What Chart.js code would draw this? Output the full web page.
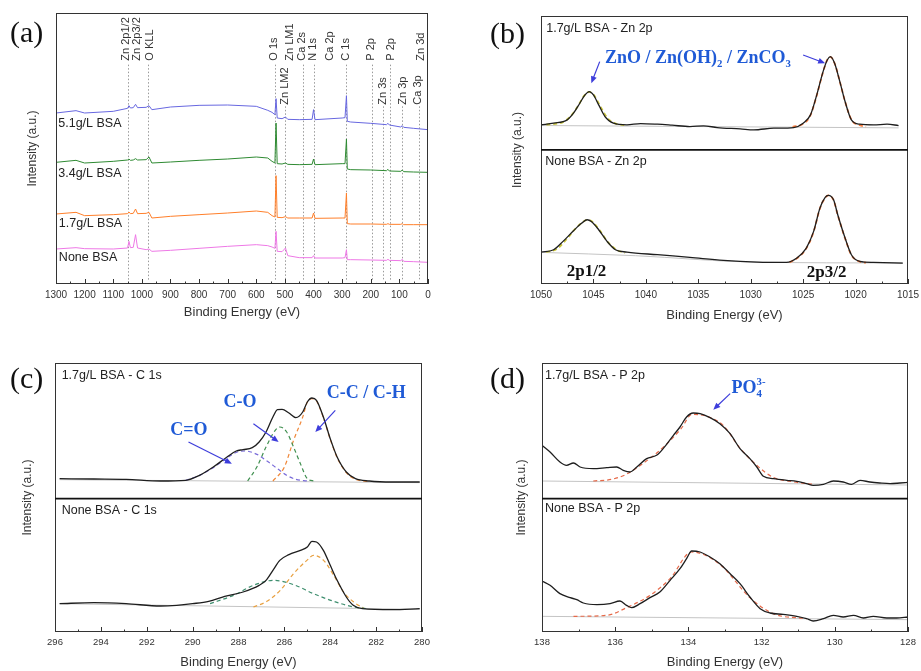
<!DOCTYPE html>
<html>
<head>
<meta charset="utf-8">
<title>XPS spectra</title>
<script src="https://cdn.jsdelivr.net/npm/chart.js@4.4.1/dist/chart.umd.min.js"></script>
<style>
  html, body { margin: 0; padding: 0; background: #fff; }
  #page { position: relative; width: 921px; height: 671px; overflow: hidden; }
  canvas { position: absolute; }
  .tag { position: absolute; font: 30px "Liberation Serif", "Times New Roman", serif; color: #111; line-height: 30px; }
</style>
</head>
<body>
<div id="page">
  <canvas id="cA" width="460" height="320" style="left:0;top:0"></canvas>
  <canvas id="cB" width="461" height="335" style="left:460px;top:0"></canvas>
  <canvas id="cC" width="460" height="341" style="left:0;top:330px"></canvas>
  <canvas id="cD" width="461" height="341" style="left:460px;top:330px"></canvas>
  <div class="tag" style="left:10px;top:17px">(a)</div>
  <div class="tag" style="left:490px;top:18px">(b)</div>
  <div class="tag" style="left:10px;top:363px">(c)</div>
  <div class="tag" style="left:490px;top:363px">(d)</div>
</div>
<script>
/* XPS figure: survey, Zn 2p, C 1s, P 2p */
const SANS  = '"Liberation Sans", Arial, sans-serif';
const SERIF = '"Liberation Serif", "Times New Roman", serif';
const BLUE  = '#1f5ad6';
const ARROW = '#3d3ddb';

// (a) survey spectra
const surveyBE   = [1300, 1230, 1200, 1100, 1050, 1045, 1040, 1030, 1022, 1015, 985, 975, 965, 900, 800, 700, 600, 560, 545, 535, 531, 527, 510, 498, 490, 450, 405, 400, 395, 300, 290, 285, 282, 270, 200, 145, 140, 135, 95, 90, 85, 50, 0];
const survey51   = [660, 667, 660, 665, 674, 682, 675, 676, 686, 676, 677, 682, 670, 678, 683, 684, 680, 668, 662, 655, 703, 645, 643, 648, 641, 640, 641, 670, 640, 645, 646, 712, 635, 633, 629, 625, 629, 624, 618, 622, 617, 614, 610];
const survey34   = [512, 518, 510, 515, 519, 522, 518, 519, 523, 519, 520, 528, 510, 513, 518, 522, 528, 525, 515, 510, 630, 508, 507, 510, 506, 505, 506, 522, 505, 508, 508, 582, 492, 490, 489, 487, 491, 486, 485, 489, 484, 483, 482];
const survey17   = [357, 362, 352, 355, 358, 363, 358, 359, 372, 358, 359, 362, 345, 350, 355, 360, 366, 362, 352, 348, 472, 347, 346, 349, 345, 345, 345, 360, 344, 345, 345, 420, 328, 327, 327, 326, 328, 326, 326, 328, 325, 325, 325];
const surveyNone = [252, 256, 253, 252, 255, 275, 256, 257, 295, 255, 250, 252, 245, 248, 254, 260, 265, 262, 258, 254, 305, 245, 244, 255, 232, 226, 226, 232, 225, 225, 226, 250, 220, 220, 219, 218, 221, 218, 217, 221, 215, 214, 212];

// (b) Zn 2p
const zn17BE  = [1050.0, 1048.8, 1047.5, 1046.9, 1046.3, 1045.8, 1045.4, 1045.0, 1044.5, 1043.9, 1043.1, 1041.8, 1040.5, 1038.9, 1037.5, 1035.8, 1034.5, 1033.2, 1031.0, 1029.7, 1027.8, 1025.9, 1025.0, 1024.3, 1023.7, 1023.1, 1022.7, 1022.4, 1022.0, 1021.5, 1021.0, 1020.4, 1019.6, 1018.3, 1017.0, 1015.9];
const zn17I   = [625, 630, 640, 660, 690, 715, 725, 715, 685, 650, 630, 625, 629, 627, 624, 620, 622, 617, 613, 610, 615, 617, 630, 655, 715, 785, 820, 830, 810, 755, 695, 640, 627, 625, 627, 623];
const zn17FitABE = [1049.5, 1048.0, 1047.2, 1046.5, 1045.9, 1045.4, 1044.9, 1044.3, 1043.6, 1042.8, 1042.0];
const zn17FitAI  = [626, 632, 650, 680, 712, 724, 712, 678, 643, 628, 624];
const zn17FitBBE = [1026.0, 1025.0, 1024.3, 1023.7, 1023.1, 1022.7, 1022.4, 1022.0, 1021.5, 1021.0, 1020.4, 1019.6, 1019.0];
const zn17FitBI  = [619, 628, 654, 714, 784, 820, 829, 810, 755, 695, 641, 624, 620];
const zn17BaseBE = [1050, 1015.9];
const zn17BaseI  = [623, 616];

const znNoneBE = [1050.0, 1048.8, 1047.9, 1046.9, 1046.1, 1045.6, 1045.2, 1044.5, 1043.7, 1042.9, 1041.8, 1038.9, 1035.8, 1032.6, 1029.4, 1026.6, 1025.6, 1024.7, 1024.0, 1023.4, 1022.9, 1022.6, 1022.1, 1021.7, 1021.0, 1020.4, 1019.6, 1018.3, 1015.5];
const znNoneI  = [243, 250, 275, 307, 330, 340, 335, 310, 275, 250, 243, 235, 227, 218, 213, 212, 225, 255, 305, 375, 407, 413, 400, 355, 285, 235, 215, 212, 210];
const znNoneFitABE = [1049.5, 1048.5, 1047.6, 1046.8, 1046.1, 1045.6, 1045.1, 1044.4, 1043.6, 1042.8, 1042.0];
const znNoneFitAI  = [243, 252, 280, 310, 331, 340, 334, 308, 272, 250, 240];
const znNoneFitBBE = [1026.3, 1025.6, 1024.7, 1024.0, 1023.4, 1022.9, 1022.6, 1022.1, 1021.7, 1021.0, 1020.4, 1019.6, 1019.0];
const znNoneFitBI  = [212, 224, 254, 304, 374, 406, 413, 399, 354, 284, 234, 214, 211];
const znNoneBaseBE = [1050, 1041, 1030, 1015.5];
const znNoneBaseI  = [242, 232, 213, 210];

// (c) C 1s
const c17BE = [295.8, 294.3, 292.9, 291.4, 290.3, 289.7, 289.1, 288.5, 288.1, 287.8, 287.4, 287.1, 286.8, 286.5, 286.3, 286.1, 285.8, 285.5, 285.2, 285.0, 284.8, 284.6, 284.3, 284.0, 283.7, 283.3, 282.9, 282.3, 281.3, 280.1];
const c17I  = [495, 494, 493, 488, 490, 505, 530, 560, 578, 582, 588, 605, 635, 680, 702, 703, 692, 678, 695, 725, 737, 730, 680, 615, 560, 515, 495, 488, 485, 485];
const c17CdoBE = [290.3, 289.7, 289.1, 288.5, 288.1, 287.7, 287.2, 286.8, 286.3, 285.9, 285.5, 285.0];
const c17CdoI  = [490, 505, 528, 557, 574, 578, 568, 550, 525, 505, 493, 488];
const c17CoBE  = [287.6, 287.2, 286.8, 286.4, 286.2, 285.9, 285.6, 285.3, 285.0, 284.7];
const c17CoI   = [488, 530, 590, 640, 650, 635, 590, 540, 495, 488];
const c17CcBE  = [286.5, 286.0, 285.6, 285.2, 285.0, 284.8, 284.6, 284.3, 284.0, 283.7, 283.3, 282.9, 282.3];
const c17CcI   = [488, 530, 610, 680, 725, 735, 728, 678, 613, 558, 513, 493, 486];
const c17BaseBE = [295.8, 280.1];
const c17BaseI  = [492, 483];

const cNoneBE = [295.8, 294.3, 292.9, 291.4, 290.7, 290.0, 289.3, 288.6, 287.8, 287.1, 286.8, 286.5, 286.2, 285.8, 285.3, 285.0, 284.8, 284.6, 284.3, 284.0, 283.7, 283.3, 283.0, 282.6, 281.3, 280.1];
const cNoneI  = [120, 123, 120, 113, 115, 120, 127, 142, 155, 175, 190, 220, 250, 267, 280, 290, 307, 305, 280, 235, 190, 140, 115, 105, 102, 105];
const cNoneCoBE = [289.24, 288.22, 287.35, 286.47, 285.6, 284.73, 283.85, 282.98, 282.4];
const cNoneCoI  = [120, 145, 175, 190, 177, 150, 127, 110, 105];
const cNoneCcBE = [287.35, 286.76, 286.18, 285.6, 285.02, 284.73, 284.29, 283.85, 283.42, 282.98, 282.55];
const cNoneCcI  = [110, 127, 160, 210, 250, 265, 250, 205, 155, 125, 107];
const cNoneBaseBE = [295.8, 280.1];
const cNoneBaseI  = [120, 103];

// (d) P 2p
const p17BE = [138.0, 137.78, 137.51, 137.33, 137.14, 136.96, 136.6, 136.23, 135.96, 135.78, 135.6, 135.41, 135.14, 134.87, 134.69, 134.41, 134.23, 134.05, 133.87, 133.68, 133.41, 133.14, 132.86, 132.59, 132.32, 132.13, 131.95, 131.68, 131.31, 131.04, 130.77, 130.59, 130.31, 130.04, 129.77, 129.54, 129.31, 129.04, 128.77, 128.49, 128.22, 128.0];
const p17I  = [595, 575, 545, 535, 542, 530, 525, 528, 530, 520, 515, 530, 555, 565, 585, 625, 650, 680, 692, 690, 678, 660, 630, 585, 555, 530, 502, 495, 490, 487, 480, 475, 478, 488, 485, 478, 490, 485, 482, 480, 482, 484];
const p17FitBE = [136.6, 136.1, 135.7, 135.1, 134.7, 134.2, 133.9, 133.5, 133.05, 132.6, 132.1, 131.7, 131.1, 130.6];
const p17FitI  = [488, 493, 508, 552, 588, 645, 688, 682, 655, 588, 532, 500, 485, 478];
const p17BaseBE = [138, 128];
const p17BaseI  = [488, 476];

const pNoneBE = [138.0, 137.78, 137.51, 137.23, 137.05, 136.87, 136.5, 136.14, 135.87, 135.69, 135.55, 135.32, 135.05, 134.78, 134.5, 134.23, 134.05, 133.91, 133.68, 133.41, 133.14, 132.86, 132.59, 132.32, 132.04, 131.77, 131.41, 131.04, 130.77, 130.59, 130.31, 130.04, 129.77, 129.49, 129.22, 128.95, 128.58, 128.31, 128.0];
const pNoneI  = [188, 175, 150, 138, 132, 122, 117, 120, 128, 115, 108, 120, 138, 155, 190, 225, 255, 278, 275, 260, 240, 210, 180, 140, 105, 92, 88, 82, 75, 68, 75, 85, 80, 85, 77, 82, 77, 77, 80];
const pNoneFitBE = [137.14, 136.23, 135.69, 135.05, 134.5, 133.91, 133.14, 132.32, 131.68, 130.77];
const pNoneFitI  = [82, 85, 108, 145, 195, 275, 238, 138, 90, 75];
const pNoneBaseBE = [138, 128];
const pNoneBaseI  = [82, 72];

const pts = (xs, ys) => xs.map((x, i) => ({ x, y: ys[i] }));

function line(xs, ys, color, extra) {
    return Object.assign({
        data: pts(xs, ys), borderColor: color, borderWidth: 1,
        pointRadius: 0, fill: false, tension: 0
    }, extra || {});
}
const smooth = { cubicInterpolationMode: 'monotone' };
const spec  = c => Object.assign({ borderWidth: 1.3 }, smooth);
const dash  = w => Object.assign({ borderDash: [4, 3], borderWidth: w || 1.2 }, smooth);

function drawText(ctx, x, y, t) {
    const size = t.size || 12;
    const fam = t.serif ? SERIF : SANS;
    const weight = t.bold ? 'bold ' : '';
    ctx.save();
    ctx.translate(x.getPixelForValue(t.x), y.getPixelForValue(t.y));
    if (t.rotate) ctx.rotate(-Math.PI / 2);
    ctx.fillStyle = t.color || '#222';
    ctx.textBaseline = 'middle';
    ctx.textAlign = 'left';
    let cx = 0;
    const parts = Array.isArray(t.text) ? t.text : [{ t: t.text }];
    parts.forEach(p => {
        const s = (p.sub || p.sup) ? size * 0.6 : size;
        ctx.font = weight + s + 'px ' + fam;
        const dy = p.sub ? size * 0.32 : p.sup ? -size * 0.38 : 0;
        ctx.fillText(p.t, cx, dy);
        if (!p.hold) cx += ctx.measureText(p.t).width;
    });
    ctx.restore();
}

function drawArrow(ctx, x, y, ar) {
    const x1 = x.getPixelForValue(ar.from[0]), y1 = y.getPixelForValue(ar.from[1]);
    const x2 = x.getPixelForValue(ar.to[0]),   y2 = y.getPixelForValue(ar.to[1]);
    const ang = Math.atan2(y2 - y1, x2 - x1);
    ctx.save();
    ctx.strokeStyle = ctx.fillStyle = ARROW;
    ctx.lineWidth = 1.2;
    ctx.beginPath();
    ctx.moveTo(x1, y1);
    ctx.lineTo(x2 - 5 * Math.cos(ang), y2 - 5 * Math.sin(ang));
    ctx.stroke();
    ctx.beginPath();
    ctx.moveTo(x2, y2);
    ctx.lineTo(x2 - 7 * Math.cos(ang) + 3 * Math.sin(ang), y2 - 7 * Math.sin(ang) - 3 * Math.cos(ang));
    ctx.lineTo(x2 - 7 * Math.cos(ang) - 3 * Math.sin(ang), y2 - 7 * Math.sin(ang) + 3 * Math.cos(ang));
    ctx.closePath();
    ctx.fill();
    ctx.restore();
}

// frame, inward ticks, divider, peak markers and labels
const decor = {
    id: 'decor',
    beforeDatasetsDraw(chart, args, o) {
        const { ctx, scales: { x, y } } = chart;
        if (!o.markers) return;
        ctx.save();
        ctx.strokeStyle = '#9a9a9a';
        ctx.lineWidth = 1;
        ctx.setLineDash([1.5, 2]);
        o.markers.forEach(([be, top, bottom]) => {
            const px = Math.round(x.getPixelForValue(be)) + 0.5;
            ctx.beginPath();
            ctx.moveTo(px, y.getPixelForValue(top));
            ctx.lineTo(px, y.getPixelForValue(bottom));
            ctx.stroke();
        });
        ctx.restore();
    },
    afterDatasetsDraw(chart, args, o) {
        const { ctx, chartArea: a, scales: { x, y } } = chart;
        ctx.save();
        ctx.strokeStyle = '#333';
        ctx.lineWidth = 1;
        ctx.strokeRect(a.left + 0.5, a.top + 0.5, a.width - 1, a.height - 1);
        if (o.divider != null) {
            const py = y.getPixelForValue(o.divider);
            ctx.lineWidth = 1.6;
            ctx.strokeStyle = '#111';
            ctx.beginPath();
            ctx.moveTo(a.left, py);
            ctx.lineTo(a.right, py);
            ctx.stroke();
        }
        ctx.lineWidth = 1;
        ctx.strokeStyle = '#333';
        for (let v = x.min; v <= x.max + 1e-9; v += o.minor) {
            const r = v / o.major;
            const isMajor = Math.abs(r - Math.round(r)) < 1e-6;
            const px = Math.round(x.getPixelForValue(v)) + 0.5;
            ctx.beginPath();
            ctx.moveTo(px, a.bottom);
            ctx.lineTo(px, a.bottom - (isMajor ? 5 : 2.5));
            ctx.stroke();
        }
        ctx.restore();
        (o.texts || []).forEach(t => drawText(ctx, x, y, t));
        (o.arrows || []).forEach(ar => drawArrow(ctx, x, y, ar));
    }
};

function makeChart(id, o) {
    return new Chart(document.getElementById(id), {
        type: 'line',
        data: { datasets: o.datasets },
        options: {
            responsive: false,
            animation: false,
            events: [],
            layout: { padding: { top: o.padTop, right: o.padRight, left: 0, bottom: 0 } },
            plugins: { legend: { display: false }, tooltip: { enabled: false }, decor: o.decor },
            scales: {
                x: {
                    type: 'linear', reverse: true, min: o.xMin, max: o.xMax,
                    grid: { display: false, drawTicks: false },
                    border: { display: false },
                    ticks: {
                        stepSize: o.step, padding: 5, autoSkip: false, maxRotation: 0,
                        color: '#333', font: { size: o.tickSize, family: SANS },
                        callback: v => String(v)
                    },
                    title: {
                        display: true, text: 'Binding Energy (eV)', color: '#333',
                        font: { size: 13, family: SANS }, padding: { top: 0, bottom: o.titlePad }
                    },
                    afterFit: s => { s.height = o.xHeight; s.paddingLeft = 0; s.paddingRight = 0; }
                },
                y: {
                    min: o.yMin, max: o.yMax,
                    grid: { display: false, drawTicks: false },
                    border: { display: false },
                    ticks: { display: false },
                    title: {
                        display: true, text: 'Intensity (a.u.)', color: '#333',
                        font: { size: 12, family: SANS }, padding: { top: o.yTitlePad, bottom: 0 }
                    },
                    afterFit: s => { s.width = o.yWidth; }
                }
            }
        },
        plugins: [decor]
    });
}

const top1 = 817, top2 = 685, rot = (x, y, text) => ({ x, y, text, rotate: true, size: 11, color: '#333' });

makeChart('cA', {
    xMin: 0, xMax: 1300, step: 100, tickSize: 10,
    yMin: 147, yMax: 960,
    padTop: 13, padRight: 32, xHeight: 36, titlePad: 0, yWidth: 56, yTitlePad: 25,
    datasets: [
        line(surveyBE, survey51, '#6767e0'),
        line(surveyBE, survey34, '#2e8a32'),
        line(surveyBE, survey17, '#ff7f2a'),
        line(surveyBE, surveyNone, '#ee78e6')
    ],
    decor: {
        major: 100, minor: 50,
        markers: [[1047, 805, 160], [977, 805, 160], [534, 805, 160], [499, 680, 160], [438, 805, 160],
                  [400, 805, 160], [287, 805, 160], [196, 805, 160], [157, 680, 160], [134, 805, 160],
                  [91, 680, 160], [33, 680, 160]],
        texts: [
            rot(1055, top1, 'Zn 2p1/2'), rot(1018, top1, 'Zn 2p3/2'), rot(971, top1, 'O KLL'),
            rot(537, top1, 'O 1s'), rot(481, top1, 'Zn LM1'), rot(441, top1, 'Ca 2s'),
            rot(402, top1, 'N 1s'), rot(344, top1, 'Ca 2p'), rot(287, top1, 'C 1s'),
            rot(198, top1, 'P 2p'), rot(129, top1, 'P 2p'), rot(24, top1, 'Zn 3d'),
            rot(499, top2, 'Zn LM2'), rot(157, top2, 'Zn 3s'), rot(87, top2, 'Zn 3p'), rot(36, top2, 'Ca 3p'),
            { x: 1292, y: 628, text: '5.1g/L BSA', size: 12.5 },
            { x: 1292, y: 478, text: '3.4g/L BSA', size: 12.5 },
            { x: 1290, y: 327, text: '1.7g/L BSA', size: 12.5 },
            { x: 1290, y: 225, text: 'None BSA', size: 12.5 }
        ]
    }
});

makeChart('cB', {
    xMin: 1015, xMax: 1050, step: 5, tickSize: 10,
    yMin: 147, yMax: 952,
    padTop: 16, padRight: 13, xHeight: 51, titlePad: 12, yWidth: 81, yTitlePad: 50,
    datasets: [
        line(zn17BE, zn17I, '#1e1e1e', spec()),
        line(zn17FitABE, zn17FitAI, '#c9c43a', dash(1.8)),
        line(zn17FitBBE, zn17FitBI, '#f5793a', dash(1.8)),
        line(zn17BaseBE, zn17BaseI, '#c4c4c4'),
        line(znNoneBE, znNoneI, '#1e1e1e', spec()),
        line(znNoneFitABE, znNoneFitAI, '#c9c43a', dash(1.8)),
        line(znNoneFitBBE, znNoneFitBI, '#f5793a', dash(1.8)),
        line(znNoneBaseBE, znNoneBaseI, '#c4c4c4', smooth)
    ],
    decor: {
        major: 5, minor: 2.5, divider: 550,
        texts: [
            { x: 1049.5, y: 915, text: '1.7g/L BSA - Zn 2p', size: 12.5 },
            { x: 1049.6, y: 515, text: 'None BSA - Zn 2p', size: 12.5 },
            { x: 1043.9, y: 825, size: 18, bold: true, serif: true, color: BLUE,
              text: [{ t: 'ZnO / Zn(OH)' }, { t: '2', sub: true }, { t: ' / ZnCO' }, { t: '3', sub: true }] },
            { x: 1047.55, y: 185, text: '2p1/2', size: 17, bold: true, serif: true, color: '#111' },
            { x: 1024.66, y: 180, text: '2p3/2', size: 17, bold: true, serif: true, color: '#111' }
        ],
        arrows: [
            { from: [1044.4, 815], to: [1045.2, 750] },
            { from: [1025.0, 835], to: [1022.9, 810] }
        ]
    }
});

makeChart('cC', {
    xMin: 280, xMax: 296, step: 2, tickSize: 9.5,
    yMin: 35, yMax: 842,
    padTop: 33, padRight: 38, xHeight: 39, titlePad: 1, yWidth: 55, yTitlePad: 20,
    datasets: [
        line(c17BE, c17I, '#1e1e1e', spec()),
        line(c17CdoBE, c17CdoI, '#7a6cd9', dash()),
        line(c17CoBE, c17CoI, '#3f8f4f', dash()),
        line(c17CcBE, c17CcI, '#f0883a', dash()),
        line(c17BaseBE, c17BaseI, '#c4c4c4'),
        line(cNoneBE, cNoneI, '#1e1e1e', spec()),
        line(cNoneCoBE, cNoneCoI, '#3f8f6f', dash()),
        line(cNoneCcBE, cNoneCcI, '#e8a040', dash()),
        line(cNoneBaseBE, cNoneBaseI, '#c4c4c4')
    ],
    decor: {
        major: 2, minor: 1, divider: 435,
        texts: [
            { x: 295.71, y: 805, text: '1.7g/L BSA - C 1s', size: 12.5 },
            { x: 295.71, y: 400, text: 'None BSA - C 1s', size: 12.5 },
            { x: 290.98, y: 640, text: 'C=O', size: 18, bold: true, serif: true, color: BLUE },
            { x: 288.65, y: 725, text: 'C-O', size: 18, bold: true, serif: true, color: BLUE },
            { x: 284.15, y: 750, text: 'C-C / C-H', size: 18, bold: true, serif: true, color: BLUE }
        ],
        arrows: [
            { from: [290.18, 605], to: [288.29, 540] },
            { from: [287.35, 660], to: [286.25, 605] },
            { from: [283.78, 700], to: [284.65, 635] }
        ]
    }
});

makeChart('cD', {
    xMin: 128, xMax: 138, step: 2, tickSize: 9.5,
    yMin: 35, yMax: 842,
    padTop: 33, padRight: 13, xHeight: 39, titlePad: 1, yWidth: 82, yTitlePad: 54,
    datasets: [
        line(p17BE, p17I, '#1e1e1e', spec()),
        line(p17FitBE, p17FitI, '#e66a4a', dash()),
        line(p17BaseBE, p17BaseI, '#c4c4c4'),
        line(pNoneBE, pNoneI, '#1e1e1e', spec()),
        line(pNoneFitBE, pNoneFitI, '#e66a4a', dash()),
        line(pNoneBaseBE, pNoneBaseI, '#c4c4c4')
    ],
    decor: {
        major: 2, minor: 1, divider: 435,
        texts: [
            { x: 137.92, y: 805, text: '1.7g/L BSA - P 2p', size: 12.5 },
            { x: 137.92, y: 405, text: 'None BSA - P 2p', size: 12.5 },
            { x: 132.82, y: 765, size: 18, bold: true, serif: true, color: BLUE,
              text: [{ t: 'PO' }, { t: '4', sub: true, hold: true }, { t: '3-', sup: true }] }
        ],
        arrows: [
            { from: [132.86, 750], to: [133.32, 702] }
        ]
    }
});
</script>
</body>
</html>
